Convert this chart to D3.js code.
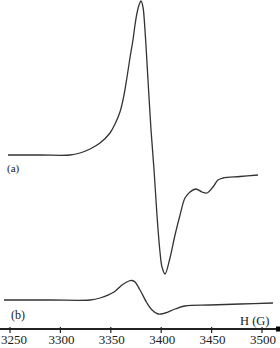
<!DOCTYPE html>
<html lang="en">
<head>
  <meta charset="UTF-8">
  <title>EPR spectra</title>
  <script src="https://d3js.org/d3.v7.min.js"></script>
  <style>
    body { margin: 0; background: #fff; }
    svg text { font-family: "Liberation Serif", "DejaVu Serif", serif; fill: #1a1a1a; }
    .trace { fill: none; stroke: #333; stroke-width: 1.3; }
  </style>
</head>
<body>
  <svg class="chart" width="280" height="348"></svg>
  <script>
    // field values (G) and signal (arb. units) for each spectrum
    const fieldA = [3248, 3280, 3309.5, 3319.4, 3329.4, 3339.3, 3349.2, 3354.2, 3359.1, 3363.1,
      3366.1, 3369, 3372, 3374, 3376, 3378, 3380, 3381.9, 3383.9, 3386.9, 3389.9, 3392.9,
      3395.8, 3398.8, 3400.8, 3403.8, 3408.7, 3413.7, 3418.7, 3423.6, 3428.6, 3434.5,
      3440.5, 3445.4, 3451.4, 3456.3, 3461.3, 3478.2, 3496];
    const signalA = [0, 0, 0, 2, 6, 12, 22, 31, 43, 60,
      78, 97, 115, 130, 142, 150, 154, 148, 125, 75, 25, -15,
      -60, -97, -112, -119, -103, -80, -60, -43, -37, -34,
      -37, -38, -32, -25, -23, -21.5, -20];

    const fieldB = [3244, 3289.7, 3329.4, 3339.3, 3353.2, 3361.1, 3368, 3371, 3374,
      3379, 3385.9, 3390.9, 3396.8, 3403.8, 3413.7, 3423.6, 3448.4, 3478.2, 3510.9];
    const signalB = [0, 0, 0, 2, 8, 15, 19, 19.5, 18,
      10, -3, -10, -14, -13, -9, -6, -5, -4, -3];

    const offsetA = 175;
    const offsetB = 30;
    const tickValues = [3250, 3300, 3350, 3400, 3450, 3500];

    const svg = d3.select(".chart");

    const x = d3.scaleLinear().domain([3250, 3500]).range([10, 262]);
    const y = d3.scaleLinear().domain([0, 330]).range([330, 0]);

    const line = d3.line()
      .x(d => x(d[0]))
      .y(d => y(d[1]))
      .curve(d3.curveCatmullRom.alpha(0.5));

    const traceA = fieldA.map((f, i) => [f, signalA[i] + offsetA]);
    const traceB = fieldB.map((f, i) => [f, signalB[i] + offsetB]);

    svg.append("path").attr("class", "trace").attr("d", line(traceA));
    svg.append("path").attr("class", "trace").attr("d", line(traceB));

    // bottom axis
    const axisY = 329;
    const axis = svg.append("g").attr("transform", `translate(0,${axisY})`);
    axis.append("line")
      .attr("x1", 0).attr("x2", 278)
      .attr("stroke", "#222").attr("stroke-width", 2);
    axis.append("rect")
      .attr("x", 276).attr("y", -2.5).attr("width", 4).attr("height", 5)
      .attr("fill", "#000");

    axis.selectAll(".tick")
      .data(tickValues)
      .enter()
      .append("line")
      .attr("x1", d => x(d)).attr("x2", d => x(d))
      .attr("y1", -2).attr("y2", 4)
      .attr("stroke", "#222").attr("stroke-width", 1.2);

    axis.selectAll(".tick-label")
      .data(tickValues)
      .enter()
      .append("text")
      .attr("x", d => Math.max(x(d) + 1, 14))
      .attr("y", 15)
      .attr("text-anchor", "middle")
      .style("font-size", "13px")
      .text(d => d);

    svg.append("text")
      .attr("x", 240).attr("y", 325)
      .style("font-size", "12.5px")
      .text("H (G)");

    svg.append("text")
      .attr("x", 7).attr("y", 172)
      .style("font-size", "11px")
      .text("(a)");

    svg.append("text")
      .attr("x", 11).attr("y", 319)
      .style("font-size", "12px")
      .text("(b)");
  </script>
</body>
</html>
